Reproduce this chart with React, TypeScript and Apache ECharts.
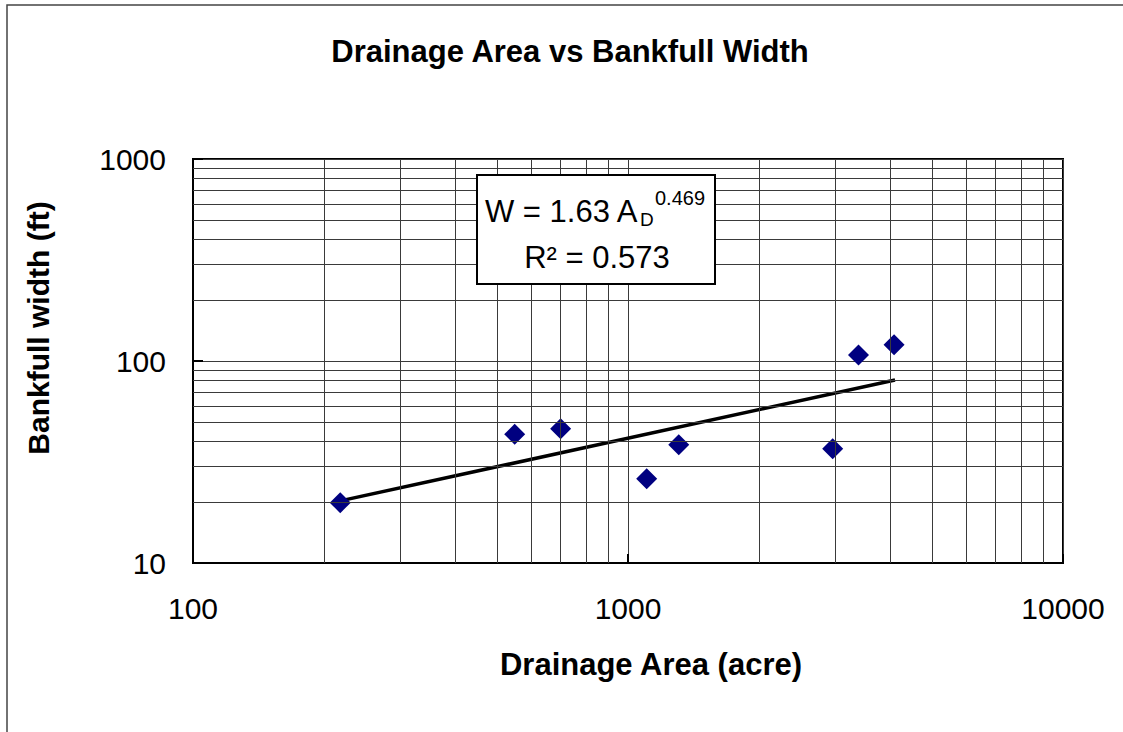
import React, { useEffect, useRef } from "react";
import * as echarts from "echarts";

const drainageArea = [218, 549, 700, 1104, 1308, 2955, 3388, 4089];
const bankfullWidth = [19.9, 43.4, 46.2, 26.1, 38.5, 36.8, 107, 120.5];
const trendArea = [218, 4110];
const trendWidth = [20.3, 80.5];
const xMinorValues = [200, 300, 400, 500, 600, 700, 800, 900, 2000, 3000, 4000, 5000, 6000, 7000, 8000, 9000];
const yMinorValues = [20, 30, 40, 50, 60, 70, 80, 90, 200, 300, 400, 500, 600, 700, 800, 900];
const xRange = [100, 10000];
const yRange = [10, 1000];

const FONT = "'Liberation Sans', Arial, Helvetica, sans-serif";
const GRID_COLOR = "#3a3a3a";

export default function App() {
  const ref = useRef<HTMLDivElement>(null);
  useEffect(() => {
    if (!ref.current) return;
    const chart = echarts.init(ref.current, null, { renderer: "svg" });
    const minorLines = [
      ...xMinorValues.map((v) => ({ xAxis: v })),
      ...yMinorValues.map((v) => ({ yAxis: v })),
    ];
    chart.setOption({
      animation: false,
      backgroundColor: "#ffffff",
      textStyle: { fontFamily: FONT },
      title: {
        text: "Drainage Area vs Bankfull Width",
        left: 570,
        top: 36,
        padding: 0,
        textAlign: "center",
        textStyle: { fontFamily: FONT, fontSize: 31, fontWeight: "bold", color: "#000" },
      },
      grid: {
        left: 193,
        top: 159,
        width: 870,
        height: 404,
        show: true,
        backgroundColor: "#ffffff",
        borderColor: "#000",
        borderWidth: 2,
      },
      xAxis: {
        type: "log",
        logBase: 10,
        min: xRange[0],
        max: xRange[1],
        name: "Drainage Area (acre)",
        nameLocation: "middle",
        nameGap: 86,
        nameTextStyle: { fontFamily: FONT, fontSize: 31, fontWeight: "bold", color: "#000", padding: [0, 0, 0, 46] },
        axisLine: { show: true, lineStyle: { color: "#000", width: 2 } },
        axisTick: { show: true, inside: true, length: 9, lineStyle: { color: "#000", width: 2 } },
        axisLabel: {
          fontFamily: FONT,
          fontSize: 30,
          color: "#000",
          margin: 30,
          formatter: (v: number) => String(Math.round(v)),
        },
        splitLine: { show: true, lineStyle: { color: GRID_COLOR, width: 1 } },
        minorTick: { show: false },
      },
      yAxis: {
        type: "log",
        logBase: 10,
        min: yRange[0],
        max: yRange[1],
        name: "Bankfull width (ft)",
        nameLocation: "middle",
        nameGap: 140,
        nameTextStyle: { fontFamily: FONT, fontSize: 30, fontWeight: "bold", color: "#000", padding: [0, 0, 0, 66] },
        axisLine: { show: true, lineStyle: { color: "#000", width: 2 } },
        axisTick: { show: true, inside: true, length: 10, lineStyle: { color: "#000", width: 2 } },
        axisLabel: {
          fontFamily: FONT,
          fontSize: 30,
          color: "#000",
          margin: 27,
          formatter: (v: number) => String(Math.round(v)),
        },
        splitLine: { show: true, lineStyle: { color: GRID_COLOR, width: 1 } },
      },
      series: [
        {
          type: "line",
          name: "grid",
          data: [],
          silent: true,
          markLine: {
            silent: true,
            symbol: ["none", "none"],
            label: { show: false },
            lineStyle: { color: GRID_COLOR, width: 1, type: "solid" },
            emphasis: { disabled: true },
            data: minorLines,
          },
          z: 1,
        },
        {
          type: "line",
          name: "Trend",
          data: trendArea.map((x, i) => [x, trendWidth[i]]),
          showSymbol: false,
          lineStyle: { color: "#000", width: 3.5 },
          z: 3,
        },
        {
          type: "scatter",
          name: "Data",
          data: drainageArea.map((x, i) => [x, bankfullWidth[i]]),
          symbol: "diamond",
          symbolSize: 21,
          itemStyle: { color: "#000080", opacity: 1 },
          z: 4,
        },
      ],
      graphic: [
        {
          type: "rect",
          shape: { x: 7, y: 5, width: 1300, height: 900 },
          style: { fill: "none", stroke: "#444", lineWidth: 1.5 },
          silent: true,
          z: 0,
        },
        {
          type: "rect",
          shape: { x: 477, y: 175, width: 238, height: 109 },
          style: { fill: "#fff", stroke: "#000", lineWidth: 2 },
          z: 10,
        },
        {
          type: "text",
          x: 485,
          y: 211,
          style: { text: "W = 1.63 A", font: `31px ${FONT}`, fill: "#000", align: "left", verticalAlign: "middle" },
          z: 11,
        },
        {
          type: "text",
          x: 640,
          y: 219,
          style: { text: "D", font: `19px ${FONT}`, fill: "#000", align: "left", verticalAlign: "middle" },
          z: 11,
        },
        {
          type: "text",
          x: 655,
          y: 198,
          style: { text: "0.469", font: `20px ${FONT}`, fill: "#000", align: "left", verticalAlign: "middle" },
          z: 11,
        },
        {
          type: "text",
          x: 597,
          y: 257,
          style: { text: "R² = 0.573", font: `31px ${FONT}`, fill: "#000", align: "center", verticalAlign: "middle" },
          z: 11,
        },
      ],
    });
    return () => chart.dispose();
  }, []);
  return (
    <div
      ref={ref}
      style={{ position: "fixed", left: 0, top: 0, width: 1123, height: 732, background: "#fff" }}
    />
  );
}
